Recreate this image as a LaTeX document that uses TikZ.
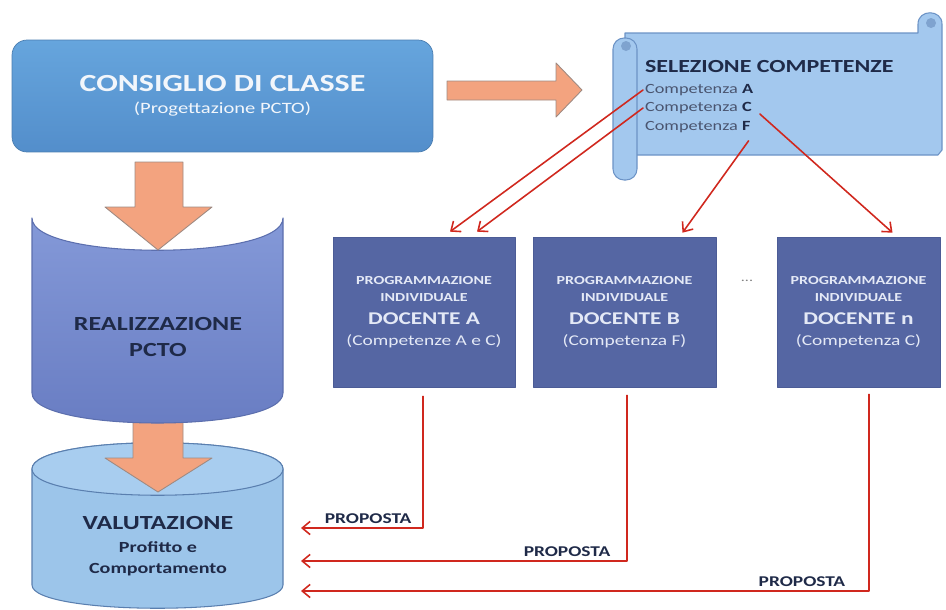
\documentclass[tikz,border=0pt]{standalone}
\usepackage{fontspec}
\setmainfont{Carlito}[FakeStretch=1.3]
\usetikzlibrary{arrows.meta,calc}

\definecolor{constop}{HTML}{66A5DD}
\definecolor{consbot}{HTML}{538ECB}
\definecolor{consedge}{HTML}{4A7DB0}
\definecolor{lighttext}{HTML}{F2F6FB}
\definecolor{arrorange}{HTML}{F3A37F}
\definecolor{arredge}{HTML}{9E8A82}
\definecolor{realtop}{HTML}{8499D8}
\definecolor{realbot}{HTML}{687CC2}
\definecolor{realedge}{HTML}{5C6FAE}
\definecolor{valfill}{HTML}{9CC5EA}
\definecolor{valtop}{HTML}{A8CDEF}
\definecolor{valedge}{HTML}{5A7FAF}
\definecolor{scrollfill}{HTML}{A3C8EE}
\definecolor{scrolledge}{HTML}{6C93C6}
\definecolor{scrolldark}{HTML}{7FA3CF}
\definecolor{docblue}{HTML}{5566A3}
\definecolor{docedge}{HTML}{4C5C96}
\definecolor{doctext}{HTML}{E4E9F6}
\definecolor{navy}{HTML}{1F2A48}
\definecolor{compgray}{HTML}{4A5570}
\definecolor{arrred}{HTML}{D0281E}

\begin{document}
\begin{tikzpicture}[x=0.02cm, y=-0.02cm, line join=round, line cap=round,
    blockarr/.style={fill=arrorange, draw=arredge, line width=0.5pt},
    scrollst/.style={fill=scrollfill, draw=scrolledge, line width=0.6pt},
    docbox/.style={fill=docblue, draw=docedge, line width=0.4pt, minimum height=3cm,
      inner sep=0pt, align=center, text=doctext, font=\fontsize{7}{9.6}\selectfont},
    redarr/.style={draw=arrred, line width=0.9pt, -{Straight Barb[length=4.5pt,width=7.5pt]}},
    prop/.style={above, inner sep=2pt, text=navy, font=\fontsize{8.5}{10}\selectfont\bfseries},
    comp/.style={anchor=west, inner sep=1pt, text=compgray, font=\fontsize{8}{9}\selectfont}]
  \useasboundingbox (0,0) rectangle (946,609);

  % consiglio di classe
  \node[draw=consedge, top color=constop, bottom color=consbot, rounded corners=0.3cm,
    minimum width=8.42cm, minimum height=2.24cm, align=center, text=lighttext,
    font=\fontsize{9}{12.5}\selectfont] (consiglio) at (222.5,96)
    {\fontsize{14}{16}\selectfont\bfseries CONSIGLIO DI CLASSE\\ (Progettazione PCTO)};
  \draw[blockarr] (447,81) -- (556,81) -- (556,63) -- (582,90) -- (556,117) -- (556,100) -- (447,100) -- cycle;

  % pergamena
  \draw[scrollst] (625,33) -- (918,33) -- (918,24) .. controls (918,9) and (942,9) .. (942,24)
    -- (942,150) -- (938,155) -- (625,155) -- cycle;
  \fill[scrolldark] (931,23) circle[radius=5];
  \draw[scrollst, rounded corners=0.22cm] (613,38) rectangle (637,180);
  \fill[scrolldark] (626,46) circle[radius=5];
  \node[anchor=west, inner sep=1pt, text=navy, font=\fontsize{10.5}{12}\selectfont\bfseries]
    (selez) at (643,67) {SELEZIONE COMPETENZE};
  \node[comp] (compA) at (643,90) {Competenza \textbf{\color{navy}A}};
  \node[comp] (compC) at (643,108) {Competenza \textbf{\color{navy}C}};
  \node[comp] (compF) at (643,127) {Competenza \textbf{\color{navy}F}};

  % valutazione
  \draw[fill=valfill, draw=valedge, line width=0.6pt] (32,469) .. controls (32,434) and (283,434) .. (283,469)
    -- (283,585) .. controls (283,616) and (32,616) .. (32,585) -- cycle;
  \draw[fill=valtop, draw=valedge, line width=0.6pt] (32,469) .. controls (32,434) and (283,434) .. (283,469)
    .. controls (283,504) and (32,504) .. (32,469) -- cycle;
  \draw[blockarr] (133,410) -- (183,410) -- (183,458) -- (212,458) -- (158,492) -- (105,458) -- (133,458) -- cycle;
  \node[align=center, text=navy, font=\fontsize{8.8}{11.9}\selectfont\bfseries] (valut) at (158,546)
    {\fontsize{11.4}{13}\selectfont VALUTAZIONE\\[1.4pt] Profitto e\\ Comportamento};

  % realizzazione
  \draw[top color=realtop, bottom color=realbot, draw=realedge, line width=0.6pt]
    (32,218) .. controls (32,261) and (283,261) .. (283,218)
    -- (283,393) .. controls (283,433) and (32,433) .. (32,393) -- cycle;
  \draw[blockarr] (135,162) -- (183,162) -- (183,207) -- (212,207) -- (158,250) -- (105,207) -- (135,207) -- cycle;
  \node[align=center, text=navy, font=\fontsize{11.4}{15.3}\selectfont\bfseries] (realizz) at (158,337)
    {REALIZZAZIONE\\ PCTO};

  % docenti
  \foreach \nm/\cx/\w/\who/\what in {docA/424/182/A/Competenze A e C, docB/624.5/183/B/Competenza F, docn/858.5/163/n/Competenza C}
    \node[docbox, minimum width=\w*0.02cm] (\nm) at (\cx,312)
      {\bfseries PROGRAMMAZIONE\\ \bfseries INDIVIDUALE\\[3.4pt]
       \fontsize{10.2}{12}\selectfont\bfseries DOCENTE \who\\[2.3pt]
       \fontsize{8.5}{10}\selectfont (\what)};
  \node[text=gray, font=\fontsize{7}{8}\selectfont] (dots) at (747,281) {...};

  % competenze -> docenti
  \draw[redarr] (compA.west) -- ($(docA.north)+(26,-5)$);
  \draw[redarr] (compC.west) -- ($(docA.north)+(53,-5)$);
  \draw[redarr] ($(compF.south east)+(-4,6)$) -- ($(docB.north)+(58,-4)$);
  \draw[redarr] ($(compC.east)+(6,6)$) -- ($(docn.north)+(34,-4)$);

  % proposte
  \coordinate (inA) at (301,528);
  \coordinate (inB) at (301,561);
  \coordinate (inn) at (301,591);
  \draw[redarr] ($(docA.south)+(-1,9)$) |- (inA) node[prop, pos=0.725] (propA) {PROPOSTA};
  \draw[redarr] ($(docB.south)+(2.5,8)$) |- (inB) node[prop, pos=0.592] (propB) {PROPOSTA};
  \draw[redarr] ($(docn.south)+(10.5,7)$) |- (inn) node[prop, pos=0.559] (propn) {PROPOSTA};
\end{tikzpicture}
\end{document}
